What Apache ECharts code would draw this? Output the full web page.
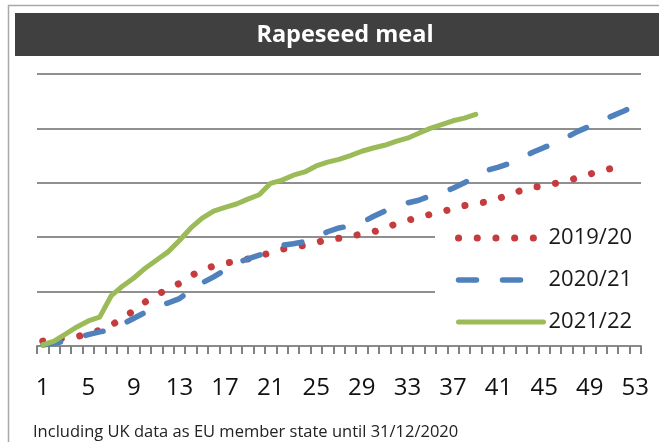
<!DOCTYPE html>
<html>
<head>
<meta charset="utf-8">
<script src="https://cdn.jsdelivr.net/npm/echarts@6/dist/echarts.min.js"></script>
<style>
  html, body { margin: 0; padding: 0; background: #fff; }
  #chart { width: 659px; height: 442px; }
</style>
</head>
<body>
<div id="chart"></div>
<script>
// week numbers on the x axis
var weeks = ['1','2','3','4','5','6','7','8','9','10','11','12','13','14','15','16','17','18','19','20',
  '21','22','23','24','25','26','27','28','29','30','31','32','33','34','35','36','37','38','39','40',
  '41','42','43','44','45','46','47','48','49','50','51','52','53'];

// cumulative values (gridline units)
var s1920 = [0.09,0.12,0.15,0.17,0.23,0.29,0.38,0.51,0.65,0.81,0.94,1.05,1.15,1.29,1.40,1.47,1.52,1.56,1.60,1.65,
  1.72,1.78,1.82,1.85,1.90,1.96,1.98,2.00,2.07,2.10,2.15,2.25,2.31,2.36,2.42,2.47,2.52,2.58,2.62,2.65,
  2.71,2.79,2.86,2.92,2.94,2.99,3.03,3.10,3.16,3.22,3.27,3.32];
var s2021 = [0.02,0.05,0.09,0.15,0.21,0.26,0.30,0.40,0.51,0.62,0.74,0.79,0.87,1.03,1.16,1.27,1.40,1.53,1.60,1.67,
  1.76,1.85,1.88,1.92,2.00,2.10,2.17,2.21,2.27,2.38,2.48,2.57,2.63,2.68,2.76,2.82,2.90,3.00,3.12,3.23,
  3.29,3.36,3.46,3.56,3.65,3.73,3.84,3.95,4.04,4.14,4.23,4.32,4.42];
var s2122 = [0.02,0.09,0.22,0.35,0.46,0.53,0.92,1.10,1.25,1.43,1.58,1.73,1.94,2.17,2.35,2.48,2.55,2.61,2.70,2.78,
  2.99,3.05,3.14,3.20,3.31,3.38,3.43,3.50,3.58,3.64,3.69,3.76,3.82,3.91,4.00,4.07,4.14,4.19,4.26];

var seriesNames = ['2019/20', '2020/21', '2021/22'];
var colors = ['#c43c3e', '#4f81bd', '#9bbb59'];

var redLine = { color: colors[0], width: 7, type: [0.1, 18.6], cap: 'round' };
var blueLine = { color: colors[1], width: 5.5, type: [18, 26], cap: 'round' };
var greenLine = { color: colors[2], width: 5, type: 'solid', cap: 'round', join: 'round' };

var chart = echarts.init(document.getElementById('chart'));

var option = {
  animation: false,
  graphic: [
    { type: 'rect', shape: { x: 8.5, y: 5.5, width: 700, height: 500 },
      style: { fill: 'transparent', stroke: '#a9a9a9', lineWidth: 1.5 }, z: -10, silent: true },
    { type: 'rect', shape: { x: 15, y: 13, width: 650, height: 43 },
      style: { fill: '#404040' }, z: 1 },
    { type: 'text', x: 345, y: 35, z: 2,
      style: { text: 'Rapeseed meal', fill: '#fff', font: 'bold 23.5px "Open Sans"',
        align: 'center', verticalAlign: 'middle' } },
    { type: 'text', x: 33, y: 432, z: 2,
      style: { text: 'Including UK data as EU member state until 31/12/2020', fill: '#222',
        font: '16.5px "Open Sans"', align: 'left', verticalAlign: 'middle' } }
  ],
  grid: [
    { left: 37, right: 18, top: 74, bottom: 96 },
    // thin strip under the axis, its split lines make the weekly tick marks
    { left: 37, right: 18, top: 347, height: 7 }
  ],
  legend: {
    orient: 'vertical',
    left: 435,
    top: 225,
    padding: [2, 10, 6, 20],
    backgroundColor: '#fff',
    itemWidth: 85,
    itemHeight: 20,
    itemGap: 20,
    itemStyle: { opacity: 0 },
    textStyle: { fontSize: 22, color: '#1a1a1a', fontFamily: 'Open Sans' },
    data: [
      { name: seriesNames[0], lineStyle: redLine },
      { name: seriesNames[1], lineStyle: blueLine },
      { name: seriesNames[2], lineStyle: greenLine }
    ]
  },
  xAxis: [
    {
      type: 'category',
      data: weeks,
      gridIndex: 0,
      axisLine: { lineStyle: { color: '#8a8a8a', width: 2 } },
      axisTick: { show: true, interval: 0, length: 8, lineStyle: { color: '#7a7a7a', width: 1.5 } },
      axisLabel: { interval: 3, margin: 30, fontSize: 24, color: '#111', fontFamily: 'Open Sans' }
    },
    {
      type: 'category',
      data: weeks,
      gridIndex: 1,
      axisLine: { show: false },
      axisTick: { show: false },
      axisLabel: { show: false },
      splitLine: { show: true, interval: 0, lineStyle: { color: '#7a7a7a', width: 1.5 } }
    }
  ],
  yAxis: [
    {
      type: 'value',
      gridIndex: 0,
      min: 0,
      max: 5,
      interval: 1,
      axisLabel: { show: false },
      splitLine: { lineStyle: { color: '#8f8f8f', width: 2 } }
    },
    {
      type: 'value',
      gridIndex: 1,
      min: 0,
      max: 1,
      axisLine: { show: false },
      axisTick: { show: false },
      axisLabel: { show: false },
      splitLine: { show: false }
    }
  ],
  series: [
    { name: seriesNames[0], type: 'line', data: s1920, symbol: 'none', z: 3,
      lineStyle: redLine, itemStyle: { color: colors[0] } },
    { name: seriesNames[1], type: 'line', data: s2021, symbol: 'none', z: 4,
      lineStyle: blueLine, itemStyle: { color: colors[1] } },
    { name: seriesNames[2], type: 'line', data: s2122, symbol: 'none', z: 5,
      lineStyle: greenLine, itemStyle: { color: colors[2] } }
  ]
};

chart.setOption(option);
</script>
</body>
</html>
